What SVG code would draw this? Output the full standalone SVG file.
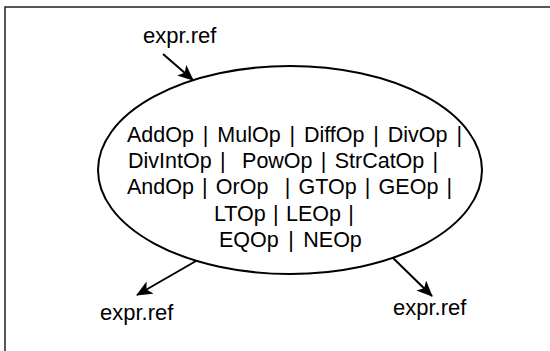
<svg xmlns="http://www.w3.org/2000/svg" width="550" height="351" viewBox="0 0 550 351">
<defs>
<style>
.t{font-family:"Liberation Sans",Arial,Helvetica,sans-serif;font-size:21.5px;fill:#000;white-space:pre}
.l{font-family:"Liberation Sans",Arial,Helvetica,sans-serif;font-size:22px;fill:#000}
.c{stroke:#000;stroke-width:2;fill:none}
</style>
<marker id="ah" viewBox="0 0 16 14" refX="15" refY="7" markerWidth="16" markerHeight="14" markerUnits="userSpaceOnUse" orient="auto">
<path d="M0,0 L16,7 L0,14 L4,7 Z" fill="#000"/>
</marker>
</defs>
<rect x="5" y="7" width="570" height="370" fill="#fff" stroke="#222" stroke-width="1.5"/>
<g id="ops">
<ellipse cx="290" cy="170" rx="192" ry="104" fill="#fff" stroke="#000" stroke-width="2"/>
<text class="t" x="127" y="142" word-spacing="2.9" xml:space="preserve">AddOp | MulOp | DiffOp | DivOp |</text>
<text class="t" x="128" y="168" word-spacing="2.3" xml:space="preserve">DivIntOp |  PowOp | StrCatOp |</text>
<text class="t" x="127" y="194" word-spacing="2.2" xml:space="preserve">AndOp | OrOp  | GTOp | GEOp |</text>
<text class="t" x="214" y="221" word-spacing="1.3" xml:space="preserve">LTOp | LEOp |</text>
<text class="t" x="219" y="247" word-spacing="3.5" xml:space="preserve">EQOp | NEOp</text>
</g>
<g id="ref-top"><text class="l" x="143" y="43">expr.ref</text></g>
<g id="ref-left"><text class="l" x="100" y="320">expr.ref</text></g>
<g id="ref-right"><text class="l" x="393" y="315">expr.ref</text></g>
<g id="connectors">
<line class="c" x1="163" y1="54" x2="193" y2="80" marker-end="url(#ah)"/>
<line class="c" x1="196" y1="261" x2="137" y2="295" marker-end="url(#ah)"/>
<line class="c" x1="393" y1="258" x2="432" y2="296" marker-end="url(#ah)"/>
</g>
</svg>
